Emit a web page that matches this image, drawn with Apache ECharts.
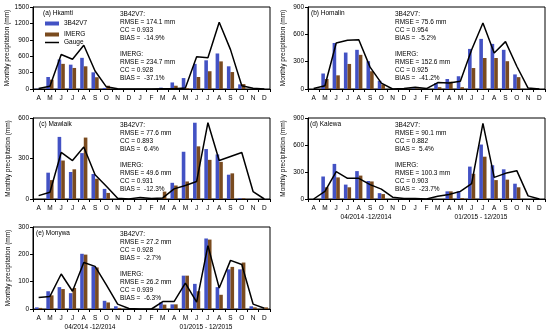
<!DOCTYPE html>
<html><head><meta charset="utf-8">
<script src="https://cdn.jsdelivr.net/npm/echarts@6/dist/echarts.min.js"></script>
<style>html,body{margin:0;padding:0;background:#fff}#c{width:550px;height:336px}</style>
</head><body><div id="c"></div>
<script>
var months = ['A','M','J','J','A','S','O','N','D','J','F','M','A','M','J','J','A','S','O','N','D'];

var hkamti3B = [5,220,540,445,570,305,20,0,0,0,0,25,120,200,460,525,650,415,85,0,0];
var hkamtiIM = [3,170,460,385,415,215,60,0,0,0,0,15,60,15,220,325,505,310,90,0,0];
var hkamtiG  = [10,50,630,545,800,330,40,5,0,0,0,5,5,20,590,570,1220,720,60,15,0];

var homalin3B = [0,170,505,400,430,305,90,0,0,5,0,65,110,140,440,550,495,430,160,0,0];
var homalinIM = [0,110,150,275,375,195,50,0,0,5,0,20,80,20,230,340,340,305,130,0,0];
var homalinG  = [5,35,505,535,540,240,65,0,5,20,5,70,65,85,430,725,395,520,250,10,0];

var mawlaik3B = [0,195,460,200,340,185,75,0,0,0,0,0,120,350,565,370,330,180,5,0,0];
var mawlaikIM = [0,140,285,220,455,150,45,0,0,0,0,55,100,130,390,290,275,190,5,0,0];
var mawlaikG  = [25,50,345,285,385,180,95,5,0,12,3,8,75,100,130,565,285,315,345,55,0];

var kalewa3B = [0,250,390,160,310,200,65,0,0,0,0,0,85,85,360,605,375,330,170,0,0];
var kalewaIM = [0,130,240,130,260,195,55,0,0,0,0,0,85,10,280,470,210,215,130,0,0];
var kalewaG  = [0,85,305,230,230,160,110,20,5,5,0,30,50,85,170,840,240,285,315,35,0];

var monywa3B = [6,65,80,58,202,156,30,10,0,0,0,24,17,122,92,258,80,145,145,10,0];
var monywaIM = [4,50,73,77,199,152,24,4,0,0,0,16,17,122,65,254,52,154,170,6,6];
var monywaG  = [42,46,128,65,170,156,88,18,2,0,0,27,27,95,25,232,77,178,163,18,3];

var yMax = [1500, 900, 600, 900, 300];
var yStep = [300, 300, 300, 300, 100];
var panelNames = ['(a) Hkamti','(b) Homalin','(c) Mawlaik','(d) Kalewa','(e) Monywa'];
var stats = [
  ['3B42V7:','RMSE = 174.1 mm','CC = 0.933','BIAS =  -14.9%','IMERG:','RMSE = 234.7 mm','CC = 0.928','BIAS =  -37.1%'],
  ['3B42V7:','RMSE = 75.6 mm','CC = 0.954','BIAS =  -5.2%','IMERG:','RMSE = 152.6 mm','CC = 0.925','BIAS =  -41.2%'],
  ['3B42V7:','RMSE = 77.6 mm','CC = 0.893','BIAS =  6.4%','IMERG:','RMSE = 49.6 mm','CC = 0.931','BIAS =  -12.3%'],
  ['3B42V7:','RMSE = 90.1 mm','CC = 0.882','BIAS =  5.4%','IMERG:','RMSE = 100.3 mm','CC = 0.903','BIAS =  -23.7%'],
  ['3B42V7:','RMSE = 27.2 mm','CC = 0.928','BIAS =  -2.7%','IMERG:','RMSE = 26.2 mm','CC = 0.939','BIAS =  -6.3%']
];
var periodLabels = ['04/2014 -12/2014','01/2015 - 12/2015'];

var sat = [hkamti3B, homalin3B, mawlaik3B, kalewa3B, monywa3B];
var imerg = [hkamtiIM, homalinIM, mawlaikIM, kalewaIM, monywaIM];
var gauge = [hkamtiG, homalinG, mawlaikG, kalewaG, monywaG];

var FONT = 'Liberation Sans, Arial, sans-serif';
var FS = 6.5;
var BLUE = '#4352c4';
var BROWN = '#7a4b1f';

var gridPos = [
  {left:33, top:7, width:237, height:82},
  {left:308, top:7, width:237, height:82},
  {left:33, top:118, width:237, height:81},
  {left:308, top:118, width:237, height:81},
  {left:33, top:227, width:237, height:82}
];
var labelX = [43, 311, 39, 310, 36];

var grids = [], xAxes = [], yAxes = [], series = [], graphics = [];
for (var i = 0; i < 5; i++) {
  var g = gridPos[i];
  grids.push({left:g.left, top:g.top, width:g.width, height:g.height, show:true, borderColor:'#000', borderWidth:1, backgroundColor:'transparent'});
  xAxes.push({type:'category', gridIndex:i, data:months, boundaryGap:true,
    axisLine:{lineStyle:{color:'#000', width:1}},
    axisTick:{show:true, length:3, lineStyle:{color:'#000'}},
    axisLabel:{fontSize:FS, fontFamily:FONT, color:'#000', margin:6, interval:0}});
  yAxes.push({type:'value', gridIndex:i, min:0, max:yMax[i], interval:yStep[i],
    name:'Monthly precipitation (mm)', nameLocation:'middle', nameGap:21,
    nameTextStyle:{fontSize:FS, fontFamily:FONT, color:'#000'},
    axisLine:{show:true, lineStyle:{color:'#000', width:1}},
    axisTick:{show:true, length:3, lineStyle:{color:'#000'}},
    splitLine:{show:false},
    axisLabel:{fontSize:FS, fontFamily:FONT, color:'#000', margin:4, formatter:function (v) { return String(v); }}});
  series.push({name:'3B42V7', type:'bar', xAxisIndex:i, yAxisIndex:i, data:sat[i], barWidth:3.6, barGap:'0%', itemStyle:{color:BLUE}});
  series.push({name:'IMERG', type:'bar', xAxisIndex:i, yAxisIndex:i, data:imerg[i], barWidth:3.6, barGap:'0%', itemStyle:{color:BROWN}});
  series.push({name:'Gauge', type:'line', xAxisIndex:i, yAxisIndex:i, data:gauge[i], symbol:'none', showSymbol:false, lineStyle:{color:'#000', width:1.5}, itemStyle:{color:'#000'}, z:5});

  graphics.push({type:'text', left:labelX[i], top:g.top + 3, style:{text:panelNames[i], fontSize:FS, fontFamily:FONT, fill:'#000'}});
  var sx = g.left + 87;
  var ys = [8, 16, 24, 32, 48, 56, 64, 72];
  for (var k = 0; k < 8; k++) {
    graphics.push({type:'text', left:sx, top:g.top + ys[k] - 4, style:{text:stats[i][k], fontSize:FS, fontFamily:FONT, fill:'#000'}});
  }
}
[[3, 366, 481, 214], [4, 90, 206, 324]].forEach(function (p) {
  graphics.push({type:'text', x:p[1], y:p[3], style:{text:periodLabels[0], fontSize:FS, fontFamily:FONT, fill:'#000', align:'center', verticalAlign:'top'}});
  graphics.push({type:'text', x:p[2], y:p[3], style:{text:periodLabels[1], fontSize:FS, fontFamily:FONT, fill:'#000', align:'center', verticalAlign:'top'}});
});

var chart = echarts.init(document.getElementById('c'), null, {renderer:'canvas'});
chart.setOption({
  animation:false,
  backgroundColor:'#fff',
  textStyle:{fontFamily:FONT},
  legend:[
    {data:[{name:'3B42V7', icon:'rect'},{name:'IMERG', icon:'rect'}],
      orient:'vertical', left:45, top:20, itemWidth:14, itemHeight:4, itemGap:4,
      textStyle:{fontSize:FS, fontFamily:FONT, color:'#000'}, padding:0},
    {data:[{name:'Gauge', icon:'rect', itemStyle:{color:'#000'}}],
      orient:'vertical', left:45, top:39, itemWidth:14, itemHeight:1.5, itemGap:4,
      textStyle:{fontSize:FS, fontFamily:FONT, color:'#000'}, padding:0}
  ],
  grid:grids, xAxis:xAxes, yAxis:yAxes, series:series, graphic:graphics
});
</script></body></html>
